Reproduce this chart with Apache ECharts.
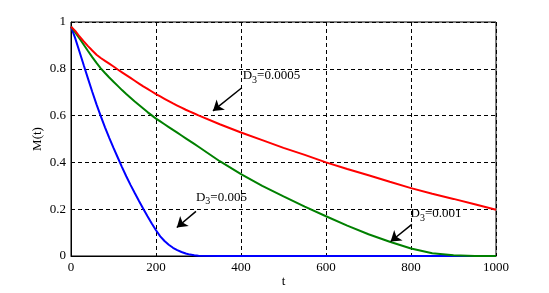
<!DOCTYPE html>
<html>
<head>
<meta charset="utf-8">
<script src="https://cdn.jsdelivr.net/npm/echarts@6/dist/echarts.min.js"></script>
<style>
  html, body { margin: 0; padding: 0; background: #fff; }
  #chart { width: 549px; height: 293px; }
</style>
</head>
<body>
<div id="chart"></div>
<script>
// sample times: every 10 up to 300, then every 50
const tValues = [0, 10, 20, 30, 40, 50, 60, 70, 80, 90, 100, 110, 120, 130, 140, 150, 160, 170, 180, 190, 200,
  210, 220, 230, 240, 250, 260, 270, 280, 290, 300,
  350, 400, 450, 500, 550, 600, 650, 700, 750, 800, 850, 900, 950, 1000];
// D3 = 0.0005
const redValues = [0.98, 0.962, 0.938, 0.917, 0.897, 0.878, 0.86, 0.846, 0.834, 0.822, 0.81, 0.797, 0.785, 0.773,
  0.761, 0.749, 0.737, 0.725, 0.714, 0.703, 0.692, 0.682, 0.672, 0.662, 0.652, 0.643, 0.634, 0.625, 0.617, 0.609,
  0.601, 0.563, 0.528, 0.495, 0.462, 0.432, 0.40, 0.372, 0.345, 0.317, 0.29, 0.266, 0.244, 0.221, 0.198];
// D3 = 0.001
const greenValues = [0.98, 0.955, 0.93, 0.903, 0.876, 0.85, 0.825, 0.802, 0.782, 0.763, 0.745, 0.727, 0.709, 0.692,
  0.676, 0.66, 0.645, 0.63, 0.615, 0.601, 0.587, 0.575, 0.563, 0.551, 0.539, 0.527, 0.515, 0.503, 0.491, 0.479,
  0.467, 0.405, 0.35, 0.30, 0.255, 0.211, 0.17, 0.13, 0.093, 0.061, 0.032, 0.012, 0.003, 0, 0];
// D3 = 0.005
const blueValues = [0.98, 0.93, 0.873, 0.815, 0.758, 0.702, 0.648, 0.598, 0.55, 0.505, 0.462, 0.421, 0.38, 0.341,
  0.304, 0.269, 0.235, 0.202, 0.17, 0.139, 0.11, 0.084, 0.064, 0.048, 0.035, 0.025, 0.017, 0.011, 0.006, 0.003,
  0.001, 0, 0, 0, 0, 0, 0, 0, 0, 0, 0, 0, 0, 0, 0];

const xTicks = [0, 200, 400, 600, 800, 1000];
const yTicks = [0, 0.2, 0.4, 0.6, 0.8, 1];

const font = 'Liberation Serif';

function pairs(vals) {
  return tValues.map((t, i) => [t, vals[i]]);
}

const rich = {
  a: { fontFamily: font, fontSize: 13, color: '#000' },
  b: { fontFamily: font, fontSize: 10, color: '#000', padding: [9, 0, 0, 0] }
};

function note(pos, label) {
  return {
    coord: pos,
    symbol: 'circle',
    symbolSize: 0,
    label: {
      show: true,
      position: 'right',
      distance: 0,
      formatter: '{a|D}{b|3}{a|=' + label + '}',
      rich: rich
    }
  };
}

function arrow(from, to) {
  return [
    { coord: from, symbol: 'none' },
    { coord: to, symbol: 'arrow', symbolSize: 10 }
  ];
}

function line(name, color, vals, notePos, label, arrFrom, arrTo) {
  return {
    name: name,
    type: 'line',
    data: pairs(vals),
    showSymbol: false,
    smooth: false,
    lineStyle: { color: color, width: 2 },
    emphasis: { disabled: true },
    markPoint: { silent: true, data: [note(notePos, label)] },
    markLine: {
      silent: true,
      symbol: ['none', 'arrow'],
      lineStyle: { color: '#000', width: 1.5, type: 'solid' },
      label: { show: false },
      data: [arrow(arrFrom, arrTo)]
    }
  };
}

const chart = echarts.init(document.getElementById('chart'));
chart.setOption({
  animation: false,
  grid: { left: 71, top: 22, right: 53, bottom: 37, outerBoundsMode: 'none',
    show: true, borderColor: '#000', borderWidth: 1 },
  xAxis: {
    type: 'value',
    min: 0,
    max: 1000,
    interval: 200,
    name: 't',
    nameLocation: 'middle',
    nameGap: 19,
    nameMoveOverlap: false,
    nameTextStyle: { fontFamily: font, fontSize: 13, color: '#000' },
    axisLine: { show: true, lineStyle: { color: '#000', width: 1 } },
    axisTick: { show: false },
    axisLabel: { fontFamily: font, fontSize: 13, color: '#000', margin: 5,
      formatter: v => xTicks.indexOf(v) >= 0 ? String(v) : '' },
    splitLine: { show: true, lineStyle: { color: '#000', width: 1, type: [4, 3] } }
  },
  yAxis: {
    type: 'value',
    min: 0,
    max: 1,
    interval: 0.2,
    name: 'M(t)',
    nameLocation: 'middle',
    nameGap: 27,
    nameMoveOverlap: false,
    nameTextStyle: { fontFamily: font, fontSize: 13, color: '#000' },
    axisLine: { show: true, lineStyle: { color: '#000', width: 1 } },
    axisTick: { show: false },
    axisLabel: { fontFamily: font, fontSize: 13, color: '#000', margin: 5,
      formatter: v => {
        const k = yTicks.findIndex(y => Math.abs(y - v) < 1e-9);
        return k >= 0 ? String(yTicks[k]) : '';
      } },
    splitLine: { show: true, lineStyle: { color: '#000', width: 1, type: [4, 3] } }
  },
  series: [
    line('D3=0.005', '#0000ff', blueValues, [294, 0.251], '0.005', [294, 0.191], [249, 0.122]),
    line('D3=0.001', '#008000', greenValues, [799, 0.182], '0.001', [802, 0.135], [752, 0.062]),
    line('D3=0.0005', '#ff0000', redValues, [404, 0.77], '0.0005', [402, 0.719], [334, 0.62])
  ]
});
</script>
</body>
</html>
